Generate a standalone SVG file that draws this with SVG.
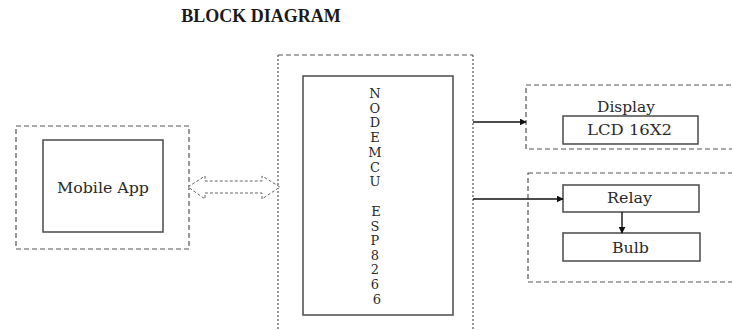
<svg xmlns="http://www.w3.org/2000/svg" width="732" height="330" viewBox="0 0 732 330">
<style>
.bg{fill:#fff}
.title{font-family:"Liberation Serif","Times New Roman",serif;font-weight:bold;font-size:18px;fill:#1a1a1a}
.lbl{font-family:"DejaVu Serif","Liberation Serif",serif;font-size:14px;fill:#2a2a2a}
.col{font-family:"DejaVu Serif","Liberation Serif",serif;font-size:13px;fill:#2a2a2a}
.box{fill:#fff;stroke:#4a4a4a;stroke-width:1.5}
.outer{fill:none;stroke:#555;stroke-width:1.2;stroke-dasharray:5 3}
.dot{fill:none;stroke:#555;stroke-width:1.2;stroke-dasharray:2 2}
.conn{stroke:#111;stroke-width:1.4;fill:none}
.dbl{fill:#fff;stroke:#666;stroke-width:1;stroke-dasharray:3 2}
</style>
<defs>
<marker id="ah" viewBox="0 0 10 10" refX="9" refY="5" markerWidth="7" markerHeight="7" orient="auto" markerUnits="userSpaceOnUse">
<path d="M0,0 L10,5 L0,10 z" fill="#111"/>
</marker>
</defs>
<rect class="bg" x="0" y="0" width="732" height="330"/>
<text class="title" x="261" y="22" text-anchor="middle">BLOCK DIAGRAM</text>

<g id="mobile">
<rect class="outer" x="16" y="126" width="173" height="123"/>
<rect class="box" x="43" y="140" width="120" height="92"/>
<text class="lbl" x="57" y="193" textLength="92" lengthAdjust="spacingAndGlyphs">Mobile App</text>
</g>

<g id="nodemcu">
<line class="outer" x1="278" y1="55" x2="473" y2="55"/>
<line class="dot" x1="278" y1="55" x2="278" y2="330"/>
<line class="dot" x1="473" y1="55" x2="473" y2="330"/>
<rect class="box" x="303" y="76" width="150" height="239"/>
<text class="col" text-anchor="middle">
<tspan x="377" y="98">N</tspan>
<tspan x="377" y="112.7">O</tspan>
<tspan x="377" y="127.4">D</tspan>
<tspan x="377" y="142.1">E</tspan>
<tspan x="377" y="156.8">M</tspan>
<tspan x="377" y="171.5">C</tspan>
<tspan x="377" y="186.2">U</tspan>
<tspan x="378" y="216">E</tspan>
<tspan x="377" y="230.5">S</tspan>
<tspan x="377" y="245">P</tspan>
<tspan x="377" y="259.7">8</tspan>
<tspan x="377" y="274.4">2</tspan>
<tspan x="377" y="289.1">6</tspan>
<tspan x="377" y="303.8">6</tspan>
</text>
</g>

<g id="display">
<rect class="outer" x="526" y="85" width="220" height="64"/>
<text class="lbl" x="597" y="112" textLength="58" lengthAdjust="spacingAndGlyphs">Display</text>
<rect class="box" x="563" y="116" width="135" height="28"/>
<text class="lbl" x="587" y="135" textLength="85" lengthAdjust="spacingAndGlyphs">LCD 16X2</text>
</g>

<g id="relaygroup">
<rect class="outer" x="528" y="173" width="220" height="109"/>
</g>
<g id="relay">
<rect class="box" x="563" y="185" width="136" height="27"/>
<text class="lbl" x="607" y="203" textLength="45" lengthAdjust="spacingAndGlyphs">Relay</text>
</g>
<g id="bulb">
<rect class="box" x="563" y="233" width="137" height="28"/>
<text class="lbl" x="612" y="253" textLength="37" lengthAdjust="spacingAndGlyphs">Bulb</text>
</g>

<g id="connectors">
<polygon class="dbl" points="188,187 205,176 205,181 262,181 262,176 280,187 262,199 262,193 205,193 205,199"/>
<line class="conn" x1="473" y1="122" x2="526" y2="122" marker-end="url(#ah)"/>
<line class="conn" x1="473" y1="199" x2="563" y2="199" marker-end="url(#ah)"/>
<line class="conn" x1="622" y1="212" x2="622" y2="233" marker-end="url(#ah)"/>
</g>
</svg>
